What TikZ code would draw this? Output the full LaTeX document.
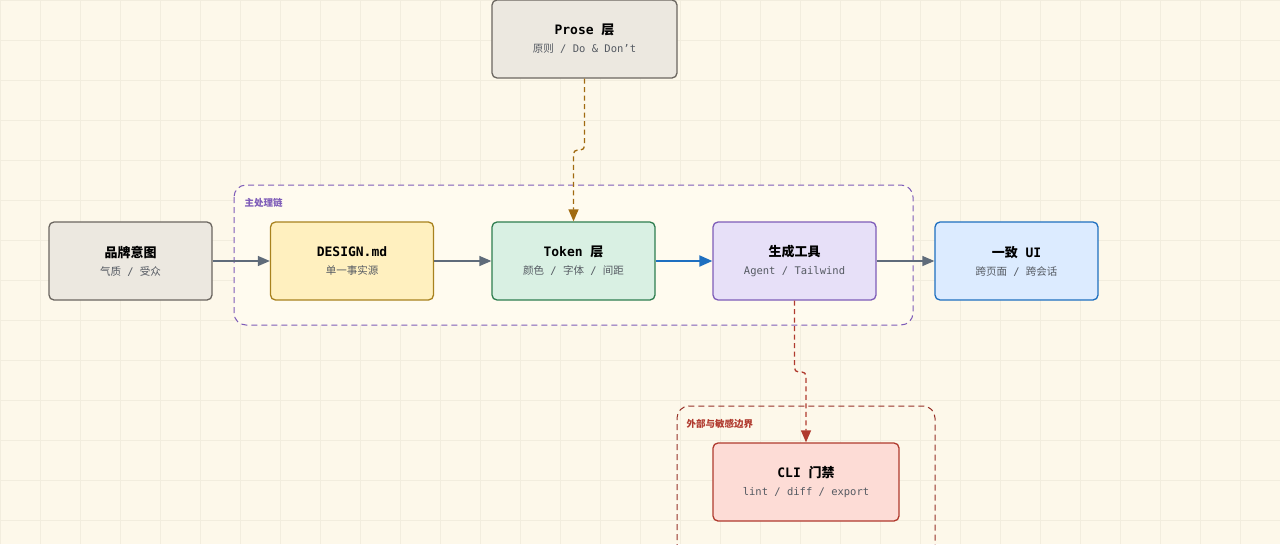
\documentclass[tikz,border=0pt]{standalone}
\usepackage{fontspec}
\setmonofont{DejaVu Sans Mono}
\newfontfamily\cjk{Noto Sans CJK SC}
\usetikzlibrary{arrows.meta}
\definecolor{bg}{HTML}{FDF8EA}
\definecolor{gridc}{HTML}{F2EDDE}
\definecolor{grayF}{HTML}{ECE8E0}\definecolor{grayD}{HTML}{6B6660}
\definecolor{yelF}{HTML}{FFF0BF}\definecolor{yelD}{HTML}{A8821E}
\definecolor{grnF}{HTML}{D9F0E3}\definecolor{grnD}{HTML}{2E7D4F}
\definecolor{purF}{HTML}{E7E0F8}\definecolor{purD}{HTML}{7E5CB8}
\definecolor{bluF}{HTML}{DCEBFF}\definecolor{bluD}{HTML}{1E6FC0}
\definecolor{redF}{HTML}{FDDCD6}\definecolor{redD}{HTML}{B03A2E}
\definecolor{arr}{HTML}{5F6B7A}
\definecolor{brn}{HTML}{A06A10}
\definecolor{txt}{HTML}{1F2430}
\definecolor{sub}{HTML}{555A62}
\tikzset{
 box/.style={draw=#1D, fill=#1F, line width=1.3pt, rounded corners=5pt, minimum width=163pt, minimum height=78pt, align=center, inner sep=0pt},
 con/.style={-{Triangle[length=12pt,width=10pt]}, line width=1.3pt, draw=arr},
 dcon/.style={-{Triangle[length=12pt,width=10pt,fill=#1]}, line width=1.3pt, draw=#1, dash pattern=on 5pt off 3.5pt, rounded corners=4pt},
}
\newcommand{\tl}[1]{{\fontsize{13}{15}\selectfont\bfseries #1}}
\newcommand{\sbt}[1]{{\fontsize{10.5}{12}\selectfont\color{sub}#1}}
\newcommand{\myslash}{\ttfamily\ /\ \cjk}
\begin{document}
\begin{tikzpicture}[x=1pt,y=-1pt]
\fill[bg] (0,0) rectangle (1280,544);
\useasboundingbox (0,0) rectangle (1280,544);
\foreach \i in {0,40,...,1280} \draw[gridc,line width=0.6pt] (\i,0) -- (\i,544);
\foreach \j in {0,40,...,520} \draw[gridc,line width=0.6pt] (0,\j) -- (1280,\j);
% groups
\draw[purD, fill=yelF!25, dash pattern=on 6pt off 4pt, line width=1pt, rounded corners=12pt] (234,185) rectangle (913,325);
\node[anchor=west, text=purD, font=\cjk\bfseries\fontsize{9.5}{10}\selectfont] (g1) at (241,203) {主处理链};
\draw[redD!85!black, dash pattern=on 6pt off 4pt, line width=1pt, rounded corners=12pt] (677,560) -- (677,406) -- (935,406) -- (935,560);
\node[anchor=west, text=redD, font=\cjk\bfseries\fontsize{9.5}{10}\selectfont] (g2) at (683,424) {外部与敏感边界};
% nodes
\node[box=gray] (a) at (130.5,261) {\tl{\cjk 品牌意图}\\[6pt]\sbt{\cjk 气质\myslash 受众}};
\node[box=yel] (b) at (352,261) {\tl{\ttfamily DESIGN.md}\\[6pt]\sbt{\cjk 单一事实源}};
\node[box=grn] (c) at (573.5,261) {\tl{\ttfamily Token\ \cjk 层}\\[6pt]\sbt{\cjk 颜色\myslash 字体\myslash 间距}};
\node[box=pur] (d) at (794.5,261) {\tl{\cjk 生成工具}\\[6pt]\sbt{\ttfamily Agent / Tailwind}};
\node[box=blu] (e) at (1016.5,261) {\tl{\cjk 一致\ttfamily\ UI}\\[6pt]\sbt{\cjk 跨页面\myslash 跨会话}};
\node[box=gray, minimum width=185pt] (p) at (584.5,39) {\tl{\ttfamily Prose\ \cjk 层}\\[6pt]\sbt{\cjk 原则\ttfamily\ / Do \& Don’t}};
\node[box=red, minimum width=186pt] (f) at (806,482) {\tl{\ttfamily CLI\ \cjk 门禁}\\[6pt]\sbt{\ttfamily lint / diff / export}};
% connectors
\draw[con] (a) -- (b);
\draw[con] (b) -- (c);
\draw[con, draw=bluD, line width=2pt, -{Triangle[length=13pt,width=11pt,fill=bluD]}] (c) -- (d);
\draw[con] (d) -- (e);
\coordinate (p1) at (584.5,150); \coordinate (p2) at (573.5,150);
\draw[dcon=brn] (p.south) -- (p1) -- (p2) -- (c.north);
\coordinate (q1) at (794.5,372); \coordinate (q2) at (806,372);
\draw[dcon=redD] (d.south) -- (q1) -- (q2) -- (f.north);
\end{tikzpicture}
\end{document}
